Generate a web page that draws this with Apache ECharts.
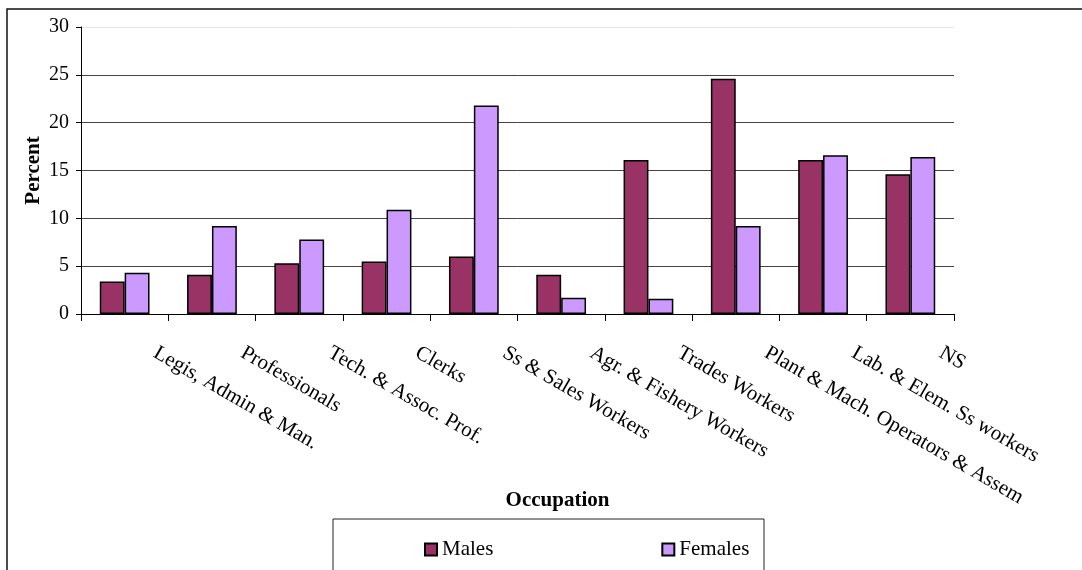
<!DOCTYPE html>
<html>
<head>
<meta charset="utf-8">
<script src="https://cdn.jsdelivr.net/npm/echarts@6/dist/echarts.min.js"></script>
<style>
  html, body { margin: 0; padding: 0; background: #fff; }
  #chart { width: 1082px; height: 570px; }
</style>
</head>
<body>
<div id="chart"></div>
<script>
// occupation groups along the x axis
const occupations = [
  'Legis, Admin & Man.',
  'Professionals',
  'Tech. & Assoc. Prof.',
  'Clerks',
  'Ss & Sales Workers',
  'Agr. & Fishery Workers',
  'Trades Workers',
  'Plant & Mach. Operators & Assem',
  'Lab. & Elem. Ss workers',
  'NS'
]
// percent values
const males = [3.4, 4.1, 5.3, 5.5, 6.0, 4.1, 16.1, 24.6, 16.1, 14.6]
const females = [4.3, 9.2, 7.8, 10.9, 21.8, 1.7, 1.6, 9.2, 16.6, 16.4]
const yTicks = [0, 5, 10, 15, 20, 25, 30]

const font = 'Liberation Serif'

const chart = echarts.init(document.getElementById('chart'))

const options = {
  animation: false,
  textStyle: { fontFamily: font, color: '#000' },
  grid: { left: 81, right: 128, top: 27, bottom: 256 },
  legend: {
    data: ['Males', 'Females'],
    left: 419,
    top: 534,
    icon: 'rect',
    itemWidth: 12,
    itemHeight: 12,
    itemGap: 168,
    textStyle: { fontFamily: font, fontSize: 21, color: '#000' }
  },
  xAxis: {
    type: 'category',
    data: occupations,
    name: 'Occupation',
    nameLocation: 'middle',
    nameMoveOverlap: false,
    nameGap: 176,
    nameTextStyle: { fontFamily: font, fontSize: 21, fontWeight: 'bold', color: '#000', padding: [0, 0, 0, 80] },
    axisLine: { lineStyle: { color: '#000', width: 1 } },
    axisTick: { show: true, length: 7, lineStyle: { color: '#000' } },
    axisLabel: {
      interval: 0,
      rotate: -30,
      margin: 20,
      padding: [0, 0, 0, 35],
      fontFamily: font,
      fontSize: 21,
      color: '#000'
    }
  },
  yAxis: {
    type: 'value',
    min: yTicks[0],
    max: yTicks[yTicks.length - 1],
    interval: 5,
    name: 'Percent',
    nameLocation: 'middle',
    nameMoveOverlap: false,
    nameGap: 37,
    nameTextStyle: { fontFamily: font, fontSize: 21, fontWeight: 'bold', color: '#000' },
    axisLine: { show: true, lineStyle: { color: '#000', width: 1 } },
    axisTick: { show: true, length: 5, lineStyle: { color: '#000' } },
    axisLabel: { margin: 12, fontFamily: font, fontSize: 20, color: '#000' },
    splitLine: {
      lineStyle: {
        color: ['#444', '#444', '#444', '#444', '#444', '#444', '#e6e6e6'],
        width: 1
      }
    }
  },
  graphic: [
    {
      type: 'rect',
      shape: { x: 7, y: 9, width: 1200, height: 700 },
      style: { fill: 'none', stroke: '#111', lineWidth: 1.5 },
      silent: true
    },
    {
      type: 'rect',
      shape: { x: 333, y: 519, width: 431, height: 100 },
      style: { fill: 'none', stroke: '#222', lineWidth: 1 },
      silent: true
    }
  ],
  series: [
    {
      name: 'Males',
      type: 'bar',
      data: males,
      barGap: '0%',
      barCategoryGap: '43%',
      itemStyle: { color: '#993366', borderColor: '#000', borderWidth: 1.5 }
    },
    {
      name: 'Females',
      type: 'bar',
      data: females,
      itemStyle: { color: '#CC99FF', borderColor: '#000', borderWidth: 1.5 }
    }
  ]
}

chart.setOption(options)
</script>
</body>
</html>
